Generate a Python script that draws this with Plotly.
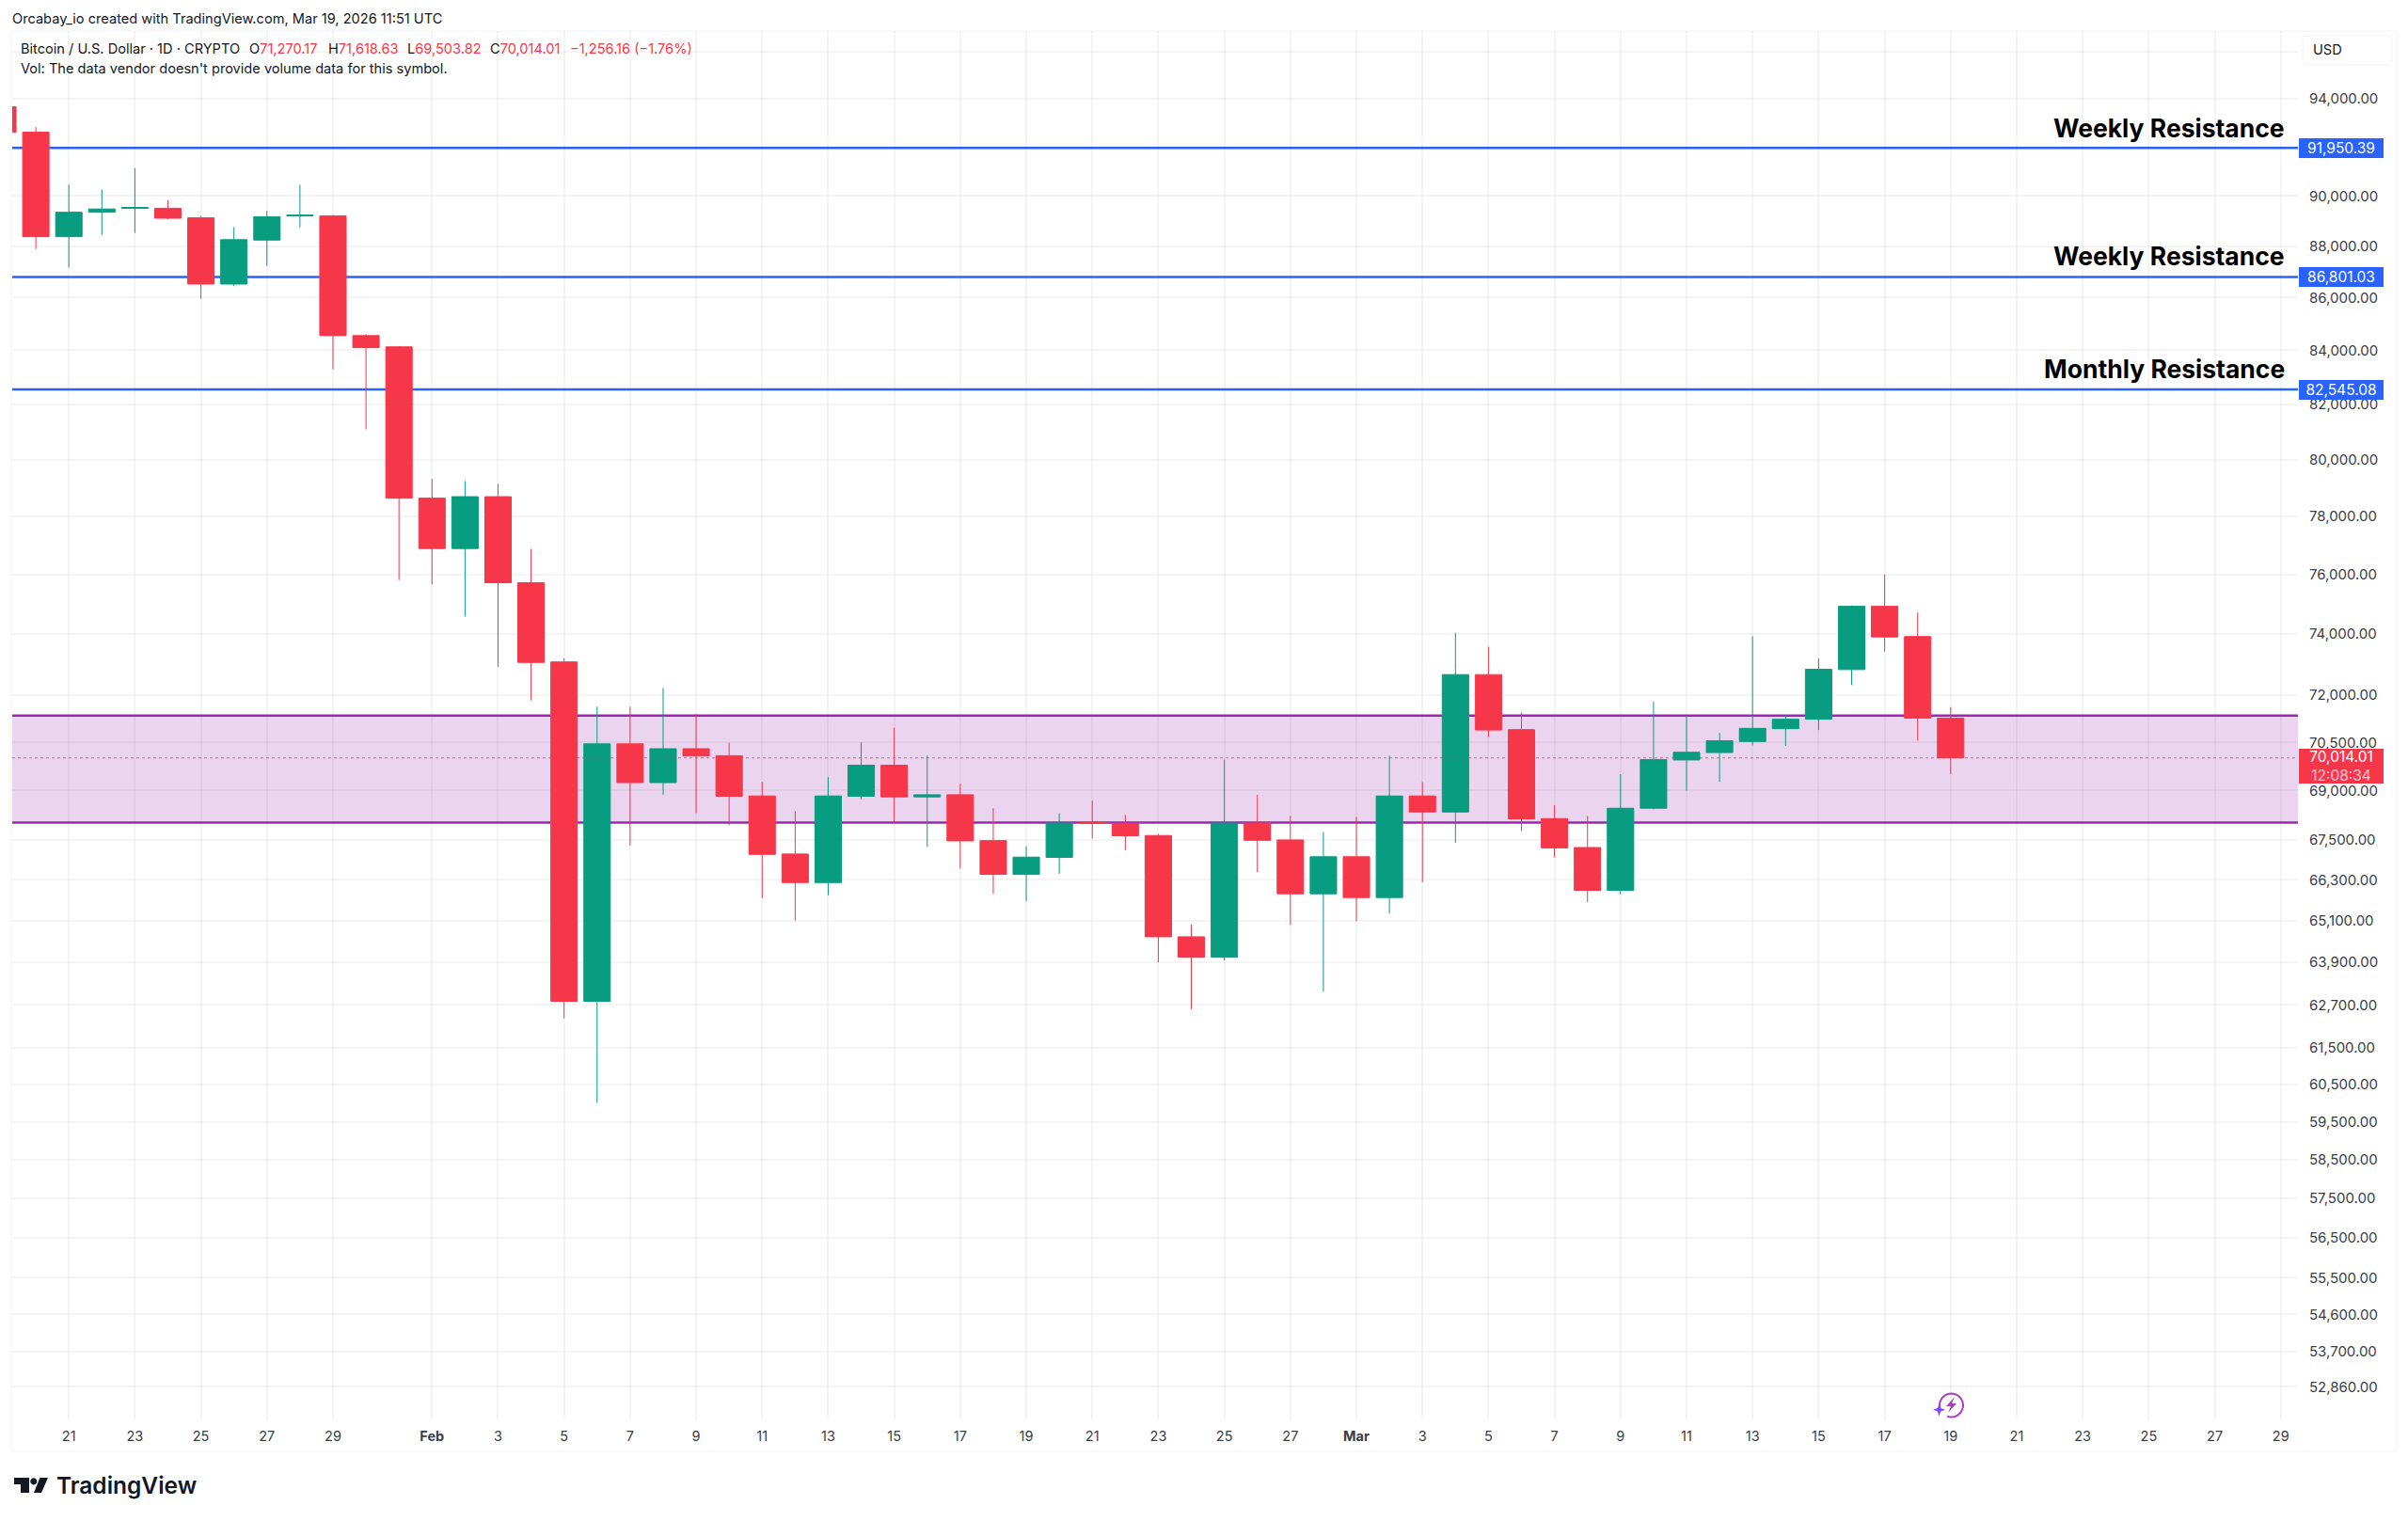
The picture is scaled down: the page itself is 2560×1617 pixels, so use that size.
import math
import pandas as pd
import plotly.graph_objects as go

# Daily BTC/USD candles, Jan 19 - Mar 19 2026
dates = pd.date_range("2026-01-19", "2026-03-19", freq="D")
opens = [93659, 92601, 88377, 89347, 89507, 89507, 89124, 86525, 88243, 89198, 89198, 84555, 84131,
         78631, 76881, 78683, 75716, 73083, 62799, 70455, 69246, 70302, 70084, 68834, 67072, 66222,
         68825, 69787, 68804, 68871, 67475, 66463, 66970, 68024, 67995, 67629, 64636, 64047, 68004,
         67495, 65890,
         66989, 65779, 68834, 68342, 72670, 70904, 68140, 67266, 65992, 68458, 69951, 70182, 70531,
         70935, 71236, 72833, 74921, 73916, 71270.17]
highs = [93659, 92814, 90452, 90258, 91128, 89830, 89198, 88756, 89403, 90452, 89243, 84612, 84158,
         79315, 79240, 79135, 76868, 73203, 71637, 71637, 72239, 71405, 70492, 69267, 68371, 69411,
         70502, 70965, 70084, 69209, 68458, 67302, 68305, 68689, 68255, 67678, 64994, 69960, 68871,
         68218, 67735,
         68197, 70084, 69258, 74042, 73580, 71447, 68553, 68218, 69506, 71796, 71345, 70803, 73925,
         71357, 73203, 74952, 75998, 74711, 71618.63]
lows = [92601, 87890, 87169, 88447, 88522, 89068, 85962, 86443, 87229, 88741, 83288, 81086, 75804,
        75666, 74576, 72923, 71838, 62321, 60012, 67322, 68871, 68313, 67938, 65760, 65106, 65843,
        68726, 68053, 67283, 66637, 65882, 65668, 66480, 67533, 67183, 63904, 62577, 63949, 66535,
        64976, 63073,
        65086, 65317, 66230, 67409, 70673, 67771, 66970, 65640, 65870, 68429, 68998, 69267, 70410,
        70392, 70892, 72330, 73423, 70555, 69503.82]
closes = [92601, 88377, 89347, 89477, 89536, 89109, 86525, 88258, 89168, 89228, 84555, 84103, 78631,
          76881, 78683, 75716, 73067, 62799, 70455, 69246, 70302, 70075, 68825, 67061, 66222, 68834,
          69787, 68804, 68871, 67466, 66463, 66978, 68004, 67995, 67620, 64636, 64047, 68004, 67484,
          65890, 66989,
          65779, 68834, 68342, 72670, 70892, 68131, 67255, 65992, 68458, 69960, 70191, 70553, 70945,
          71235, 72842, 74921, 73903, 71270.17, 70014.01]

# Horizontal levels and the support zone
levels = [91950.39, 86801.03, 82545.08]
level_names = ["Weekly Resistance", "Weekly Resistance", "Monthly Resistance"]
zone_top = 71350
zone_bottom = 68020
last_price = 70014.01
countdown = "12:08:34"

# Price axis ticks; the two blank ones only carry a grid line
price_ticks = [96000, 94000, 92000, 90000, 88000, 86000, 84000, 82000, 80000, 78000, 76000, 74000,
               72000, 70500, 69000, 67500, 66300, 65100, 63900, 62700, 61500, 60500, 59500, 58500,
               57500, 56500, 55500, 54600, 53700, 52860]
blank_price_ticks = [96000, 92000]
price_bounds = [52097, 96883]

# Time axis ticks
time_ticks = ["2026-01-21", "2026-01-23", "2026-01-25", "2026-01-27", "2026-01-29", "2026-02-01",
              "2026-02-03", "2026-02-05", "2026-02-07", "2026-02-09", "2026-02-11", "2026-02-13",
              "2026-02-15", "2026-02-17", "2026-02-19", "2026-02-21", "2026-02-23", "2026-02-25",
              "2026-02-27", "2026-03-01", "2026-03-03", "2026-03-05", "2026-03-07", "2026-03-09",
              "2026-03-11", "2026-03-13", "2026-03-15", "2026-03-17", "2026-03-19", "2026-03-21",
              "2026-03-23", "2026-03-25", "2026-03-27", "2026-03-29"]
time_labels = ["21", "23", "25", "27", "29", "<b>Feb</b>", "3", "5", "7", "9", "11", "13", "15", "17",
               "19", "21", "23", "25", "27", "<b>Mar</b>", "3", "5", "7", "9", "11", "13", "15", "17",
               "19", "21", "23", "25", "27", "29"]
time_bounds = ["2026-01-19 06:50", "2026-03-29 12:28"]

# Page geometry in pixels
W, H = 2560, 1617
LEFT, RIGHT, TOP, BOTTOM = 13, 2443, 33, 1509

# Palette
RED = "#f6374a"
GREEN = "#089c81"
BLUE = "#2962ff"
PURPLE = "#9c27b0"
INK = "#131722"
AXIS_INK = "#3a3d45"
GRID = "rgba(42,46,57,0.05)"
BORDER = "#f0f2f6"
FONT = "Inter"


def px(v):
    return (v - LEFT) / (RIGHT - LEFT)


def py(v):
    return (BOTTOM - v) / (BOTTOM - TOP)


def polygon(points, close=True):
    body = " L ".join(f"{px(a):.6f} {py(b):.6f}" for a, b in points)
    return "M " + body + (" Z" if close else "")


def page_shape(path, fill=None, line=None, width=0):
    return dict(type="path", xref="paper", yref="paper", path=path, layer="above",
                fillcolor=fill or "rgba(0,0,0,0)",
                line=dict(color=line or "rgba(0,0,0,0)", width=width))


def rounded_box(x0, y0, x1, y1, r):
    pts = []
    corners = [(x1 - r, y0 + r, -90), (x1 - r, y1 - r, 0), (x0 + r, y1 - r, 90), (x0 + r, y0 + r, 180)]
    for cx, cy, start in corners:
        for step in range(7):
            a = math.radians(start + step * 15)
            pts.append((cx + r * math.cos(a), cy + r * math.sin(a)))
    return polygon(pts)


fig = go.Figure(go.Candlestick(
    x=dates, open=opens, high=highs, low=lows, close=closes,
    whiskerwidth=0,
    increasing=dict(line=dict(color=GREEN, width=1), fillcolor=GREEN),
    decreasing=dict(line=dict(color=RED, width=1), fillcolor=RED),
    showlegend=False,
))

shapes = []

# Support zone under the candles
shapes.append(dict(type="rect", xref="paper", yref="y", x0=0, x1=1, y0=zone_bottom, y1=zone_top,
                   layer="below", fillcolor="rgba(156,39,176,0.2)", line=dict(width=0)))
for edge in (zone_top, zone_bottom):
    shapes.append(dict(type="line", xref="paper", yref="y", x0=0, x1=1, y0=edge, y1=edge,
                       layer="below", line=dict(color=PURPLE, width=2.4)))

# Resistance levels
for lv in levels:
    shapes.append(dict(type="line", xref="paper", yref="y", x0=0, x1=1, y0=lv, y1=lv,
                       layer="below", line=dict(color=BLUE, width=2.4)))

# Last price marker
shapes.append(dict(type="line", xref="paper", yref="y", x0=0, x1=1, y0=last_price, y1=last_price,
                   layer="above", line=dict(color="rgba(246,55,74,0.75)", width=1, dash="dot")))

# Outer frame
shapes.append(dict(type="rect", xref="paper", yref="paper", x0=px(12), x1=px(2548), y0=py(1543), y1=py(33),
                   layer="below", fillcolor="rgba(0,0,0,0)", line=dict(color=BORDER, width=1)))

# Currency button
shapes.append(page_shape(rounded_box(2448, 38, 2543, 69, 5), fill="#ffffff", line=BORDER, width=1))

# Brand mark
shapes.append(page_shape(polygon([(15, 1571), (31, 1571), (31, 1587), (22, 1587), (22, 1578), (15, 1578)]), fill=INK))
shapes.append(page_shape(polygon([(42.5, 1571), (51, 1571), (44, 1587), (36, 1587)]), fill=INK))
dot = [(35.8 + 3.6 * math.cos(math.radians(t)), 1574.8 + 3.6 * math.sin(math.radians(t))) for t in range(0, 360, 30)]
shapes.append(page_shape(polygon(dot), fill=INK))

# Small flash badge on the last bar
ring = [(2074.5 + 12.5 * math.cos(math.radians(t)), 1494 + 12.5 * math.sin(math.radians(t)))
        for t in range(-200, 120, 10)]
shapes.append(page_shape(polygon(ring, close=False), line="#a93fc0", width=2))
shapes.append(page_shape(polygon([(2078, 1485), (2069, 1495), (2074, 1495), (2071, 1502), (2080, 1492), (2075, 1492)]),
                         fill="#a93fc0"))
shapes.append(page_shape(polygon([(2061.5, 1492), (2063.2, 1497), (2068, 1498.7), (2063.2, 1500.4), (2061.5, 1505.5),
                                  (2059.8, 1500.4), (2055, 1498.7), (2059.8, 1497)]), fill="#7c4dff"))

annotations = []


def page_text(text, x, y, size, color=INK, anchor="left", weight=None):
    # annotations carry a 2px inner pad, taken off the requested position
    annotations.append(dict(xref="paper", yref="paper", x=px(x - 2), y=py(y), xanchor=anchor, yanchor="middle",
                            text=text, showarrow=False, align=anchor,
                            font=dict(family=FONT, size=size, color=color, weight=weight)))


page_text("Orcabay_io created with TradingView.com, Mar 19, 2026 11:51 UTC", 13, 20, 14.6, INK)


def red(s):
    return f'<span style="color:{RED}">{s}</span>'


# Symbol line with the last bar's OHLC values
change = last_price - opens[-1]
page_text("Bitcoin / U.S. Dollar · 1D · CRYPTO", 22, 52, 14.6, INK)
page_text("O" + red(f"{opens[-1]:,.2f}"), 265, 52, 14.6, INK)
page_text("H" + red(f"{highs[-1]:,.2f}"), 348.5, 52, 14.6, INK)
page_text("L" + red(f"{lows[-1]:,.2f}"), 433.4, 52, 14.6, INK)
page_text("C" + red(f"{closes[-1]:,.2f}"), 520.7, 52, 14.6, INK)
page_text(red(f"−{abs(change):,.2f} (−1.76%)"), 605.6, 52, 14.6, INK)
page_text("Vol: The data vendor doesn't provide volume data for this symbol.", 22, 73, 14.6, INK)
page_text("USD", 2459, 53.5, 14.6, INK)
page_text("TradingView", 60, 1579, 24.5, INK, weight=600)

# Level captions and price tags
shifts = [21, 22, 22]
for lv, name, shift in zip(levels, level_names, shifts):
    annotations.append(dict(xref="paper", yref="y", x=px(2431), y=math.log10(lv), xanchor="right",
                            yanchor="middle", yshift=shift, text=name, showarrow=False,
                            font=dict(family=FONT, size=26.5, color="#000000", weight=700)))
    annotations.append(dict(xref="paper", yref="y", x=px(2444), y=math.log10(lv), xanchor="left",
                            yanchor="middle", text=f"{lv:,.2f}", showarrow=False, width=90, height=21,
                            bgcolor=BLUE, borderpad=0, borderwidth=0, align="center",
                            font=dict(family=FONT, size=15.5, color="#ffffff")))
annotations.append(dict(xref="paper", yref="y", x=px(2444), y=math.log10(last_price), xanchor="left",
                        yanchor="middle", yshift=-8.5, showarrow=False, width=90, height=37,
                        text=f'{last_price:,.2f}<br><span style="color:#ffc4ca">{countdown}</span>',
                        bgcolor=RED, borderpad=0, borderwidth=0, align="center",
                        font=dict(family=FONT, size=15.5, color="#ffffff")))

fig.update_layout(
    width=W, height=H,
    margin=dict(l=LEFT, r=W - RIGHT, t=TOP, b=H - BOTTOM, autoexpand=False),
    paper_bgcolor="#ffffff", plot_bgcolor="#ffffff",
    boxgap=0.2, boxgroupgap=0,
    showlegend=False,
    shapes=shapes,
    annotations=annotations,
    xaxis=dict(type="date", range=time_bounds, rangeslider=dict(visible=False),
               tickmode="array", tickvals=time_ticks, ticktext=time_labels,
               showgrid=True, gridcolor=GRID, gridwidth=1.5, zeroline=False, showline=False,
               ticks="", ticklabelstandoff=7, tickangle=0,
               tickfont=dict(family=FONT, size=14.5, color=AXIS_INK)),
    yaxis=dict(type="log", side="right", range=[math.log10(b) for b in price_bounds],
               tickmode="array", tickvals=price_ticks,
               ticktext=["" if t in blank_price_ticks else f"{t:,.2f}" for t in price_ticks],
               showgrid=True, gridcolor=GRID, gridwidth=2, zeroline=False, showline=False,
               ticks="", ticklabelstandoff=11,
               tickfont=dict(family=FONT, size=15, color=AXIS_INK)),
)

fig.write_html("out.html")
